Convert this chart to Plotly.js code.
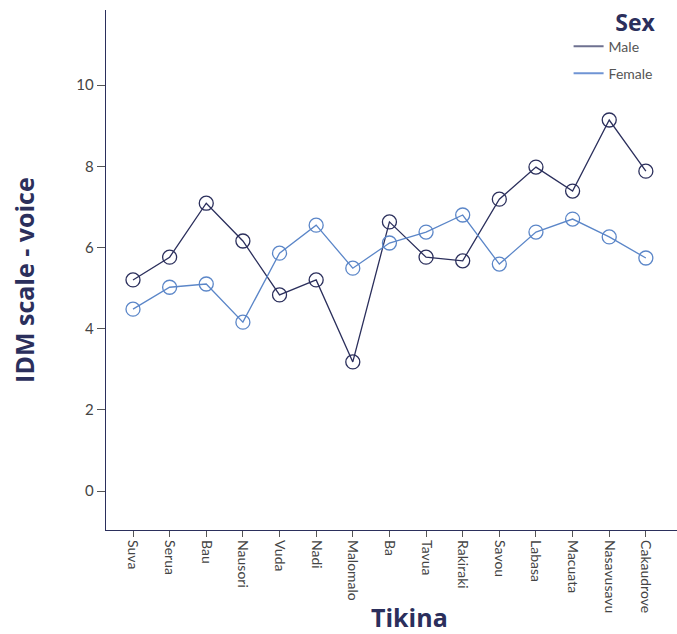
<!DOCTYPE html>
<html>
<head>
<meta charset="utf-8">
<script src="https://cdn.plot.ly/plotly-3.0.1.min.js"></script>
<style>html,body{margin:0;padding:0;background:#fff;}#chart{width:677px;height:634px;}</style>
</head>
<body>
<div id="chart"></div>
<script>
const tikina = ["Suva","Serua","Bau","Nausori","Vuda","Nadi","Malomalo","Ba","Tavua","Rakiraki","Savou","Labasa","Macuata","Nasavusavu","Cakaudrove"];
const male = [5.2,5.76,7.09,6.16,4.83,5.2,3.18,6.63,5.76,5.67,7.19,7.98,7.39,9.14,7.88];
const female = [4.48,5.02,5.1,4.16,5.86,6.55,5.49,6.11,6.38,6.8,5.59,6.38,6.7,6.26,5.74];
const seriesNames = ["Male","Female"];

const navy = "#2b2f5c";
const blue = "#5b86c8";
const font = "Lato, 'Open Sans', sans-serif";
const titleFont = "'Open Sans', Lato, sans-serif";

const traces = [
  {x: tikina, y: male, name: seriesNames[0], type: "scatter", mode: "lines+markers", showlegend: false,
   line: {color: navy, width: 1.3},
   marker: {symbol: "circle-open", size: 14, color: navy, line: {width: 1.3}}},
  {x: tikina, y: female, name: seriesNames[1], type: "scatter", mode: "lines+markers", showlegend: false,
   line: {color: blue, width: 1.3},
   marker: {symbol: "circle-open", size: 14, color: blue, line: {width: 1.3}}},
  {x: [null], y: [null], name: seriesNames[0], type: "scatter", mode: "lines", legendgroup: "m",
   line: {color: "#6e7190", width: 2}},
  {x: [null], y: [null], name: seriesNames[1], type: "scatter", mode: "lines", legendgroup: "f",
   line: {color: "#6f94d4", width: 2}}
];

const layout = {
  width: 677, height: 634,
  margin: {l: 106, r: 0, t: 10, b: 104},
  paper_bgcolor: "#fff", plot_bgcolor: "#fff",
  font: {family: font, color: "#444", size: 13},
  showlegend: true,
  legend: {
    x: 0.966, xanchor: "right", y: 1.018, yanchor: "top",
    traceorder: "grouped", tracegroupgap: 6,
    title: {text: "<b>Sex</b>", side: "top right", font: {size: 23, color: navy, family: titleFont}},
    font: {size: 14, color: "#555", family: font},
    bgcolor: "rgba(0,0,0,0)"
  },
  xaxis: {
    type: "category", range: [-0.737, 14.85],
    showline: true, linecolor: navy, linewidth: 1.3,
    showgrid: false, zeroline: false,
    ticks: "outside", ticklen: 6, tickcolor: "#555", tickwidth: 1,
    tickangle: 90, tickfont: {size: 14, color: "#444", family: font},
    title: {text: ""}
  },
  yaxis: {
    range: [-0.96, 11.85],
    showline: true, linecolor: navy, linewidth: 1.3,
    showgrid: false, zeroline: false,
    tickvals: [0,2,4,6,8,10],
    ticks: "outside", ticklen: 8, tickcolor: "#555", tickwidth: 1,
    tickfont: {size: 15, color: "#444", family: font},
    title: {text: ""}
  },
  annotations: [
    {text: "<b>Tikina</b>", xref: "paper", yref: "paper", x: 0.532, y: -0.168, xanchor: "center", yanchor: "middle",
     showarrow: false, font: {size: 25, color: navy, family: titleFont}},
    {text: "<b>IDM scale - voice</b>", xref: "paper", yref: "paper", x: -0.1436, y: 0.481, xanchor: "center", yanchor: "middle",
     textangle: -90, showarrow: false, font: {size: 25, color: navy, family: titleFont}}
  ]
};

Plotly.newPlot("chart", traces, layout, {displayModeBar: false, staticPlot: true});
</script>
</body>
</html>
